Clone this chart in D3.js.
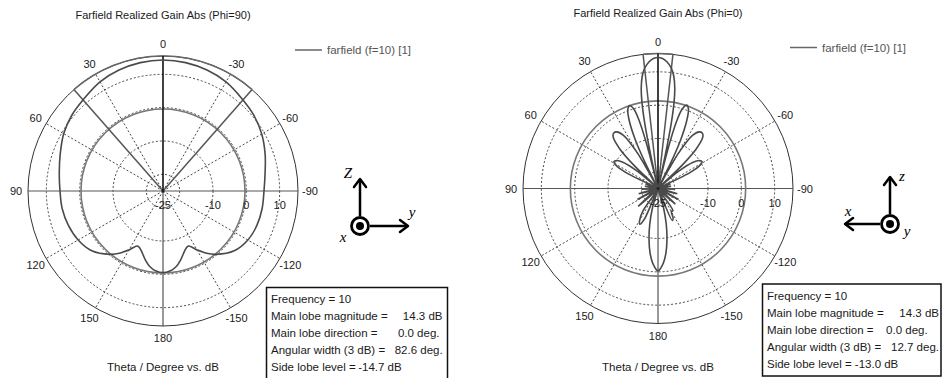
<!DOCTYPE html>
<html>
<head>
<meta charset="utf-8">
<script src="https://cdn.jsdelivr.net/npm/d3@7"></script>
<style>
  html, body { margin: 0; padding: 0; background: #fff; }
  text { font-family: "Liberation Sans", Arial, sans-serif; fill: #1a1a1a; }
</style>
</head>
<body>
<script>
// ---------------- DATA ----------------
const chartTitles = ["Farfield Realized Gain Abs (Phi=90)", "Farfield Realized Gain Abs (Phi=0)"];
const axisTitle = "Theta / Degree vs. dB";
const legendLabel = "farfield (f=10) [1]";
const angleTicks = [0, 30, 60, 90, 120, 150, 180, -150, -120, -90, -60, -30];
const radialTicks = [-25, -10, 0, 10];
const gridCircles = [-20, -10, 0, 10];
const radialMin = -25, radialMax = 15.5;

// Phi = 90 cut (theta in degrees, gain in dB)
const thetaPhi90 = [-180,-175,-170,-166,-162,-158,-155,-150,-145,-140,-130,-120,-110,-100,-90,-80,-70,-60,-50,-41,-30,-20,-10,
  0,10,20,30,41,50,60,70,80,90,100,110,120,130,140,145,150,155,158,162,166,170,175];
const gainPhi90 = [-0.5,-0.9,-2.0,-3.5,-5.2,-6.5,-6.8,-4.6,-2.2,-0.2,2.9,4.4,5.0,5.2,5.3,6.1,7.6,9.2,10.5,11.4,12.8,13.6,14.1,
  14.3,14.1,13.6,12.8,11.4,10.6,9.4,7.8,6.6,5.9,5.7,5.2,4.4,2.9,-0.2,-2.2,-4.6,-6.8,-6.5,-5.2,-3.5,-2.0,-0.9];

// Phi = 0 cut
const thetaPhi0 = [-180,-176,-173,-170,-167,-164,-162,-156,-153,-150,-146,-138,-132,-124,-118,-111,-105,-98,-92,-85,-80,-74,-70,-66,
  -63.5,-61,-58.5,-56,-53,-50,-48,-46,-44,-41,-38.5,-36,-33,-30,-28,-26.5,-25,-23,-21,-19,-17,-15.5,-14,-13,-12.3,-11.5,-10.5,-9.5,-8,-6.35,-4,-2,
  0,2,4,6.35,8,9.5,10.5,11.5,12.3,13,14,15.5,17,19,21,23,25,26.5,28,30,33,36,38.5,41,44,46,48,50,53,56,58.5,61,63.5,
  66,70,74,80,85,92,98,105,111,118,124,132,138,146,150,153,156,162,164,167,170,173,176];
const gainPhi0 = [-0.3,-2.5,-5.5,-9.5,-14,-19,-25,-14.5,-15,-17,-17,-25,-18,-25,-18,-25,-19,-25,-20,-25,-21,-25,-21,-25,
  -14,-10.5,-9.5,-10,-12,-17,-25,-15,-8.5,-4.5,-3.7,-4,-6,-13,-25,-17,-9,-3,0.5,1.5,0,-4,-14,-25,-15,-5,1.5,5.5,9.0,11.3,13.1,14.0,
  14.3,14.0,13.1,11.3,9.0,5.5,1.5,-5,-15,-25,-14,-4,0,1.3,0.3,-3,-9,-17,-25,-13,-6,-4,-3.7,-4.5,-8.5,-15,-25,-17,-12,-10,-9.5,-10.5,-14,
  -25,-21,-25,-21,-25,-20,-25,-19,-25,-18,-25,-17,-25,-17,-14,-13,-15,-25,-19,-14,-9.5,-5.5,-2.5];

// Summary boxes
const frequencyValue = [10, 10];
const mainLobeMag = [14.3, 14.3];
const mainLobeDir = [0.0, 0.0];
const angularWidth = [82.6, 12.7];
const sideLobeLevel = [-14.7, -13.0];

// ---------------- DRAW ----------------
const W = 943, H = 378;
const svg = d3.select("body").append("svg").attr("width", W).attr("height", H);
const R = 135;
const rScale = d3.scaleLinear().domain([radialMin, radialMax]).range([0, R]).clamp(true);
const rad = d => d * Math.PI / 180;
const pt = (cx, cy, deg, r) => [cx - r * Math.sin(rad(deg)), cy - r * Math.cos(rad(deg))];

const charts = [
  { cx: 163, cy: 191, theta: thetaPhi90, gain: gainPhi90, titleY: 19,
    legendX: 295, legendY: 50, box: {x: 266.5, y: 287.5, w: 181, h: 100, tx: 271, y0: 303, dy: 16.9,
      vx: [442.5, 439.5, 442.7, 401.7]} },
  { cx: 658, cy: 188.5, theta: thetaPhi0, gain: gainPhi0, titleY: 17,
    legendX: 790, legendY: 47.5, box: {x: 762.5, y: 284, w: 178.5, h: 92, tx: 767, y0: 299.5, dy: 17,
      vx: [939, 927.7, 939, 898.3]} }
];

charts.forEach((c, i) => {
  const g = svg.append("g");
  const { cx, cy } = c;

  // title
  g.append("text").attr("x", cx).attr("y", c.titleY).attr("text-anchor", "middle")
    .style("font-size", "11px").text(chartTitles[i]);

  // dashed grid circles
  gridCircles.forEach(v => {
    g.append("circle").attr("cx", cx).attr("cy", cy).attr("r", rScale(v))
      .attr("fill", "none").attr("stroke", "#333").attr("stroke-width", 0.9)
      .attr("stroke-dasharray", "2,2");
  });
  // dashed radial lines
  angleTicks.filter(a => a % 90 !== 0).forEach(a => {
    const p = pt(cx, cy, a, R);
    g.append("line").attr("x1", cx).attr("y1", cy).attr("x2", p[0]).attr("y2", p[1])
      .attr("stroke", "#333").attr("stroke-width", 0.9).attr("stroke-dasharray", "2,2");
  });
  // outer circle
  g.append("circle").attr("cx", cx).attr("cy", cy).attr("r", R)
    .attr("fill", "none").attr("stroke", "#333").attr("stroke-width", 1);
  // axes: horizontal and lower vertical
  g.append("line").attr("x1", cx - R).attr("y1", cy).attr("x2", cx + R).attr("y2", cy)
    .attr("stroke", "#555").attr("stroke-width", 1);
  g.append("line").attr("x1", cx).attr("y1", cy).attr("x2", cx).attr("y2", cy + R)
    .attr("stroke", "#333").attr("stroke-width", 1);

  // side lobe level circle
  const sllAbs = mainLobeMag[i] + sideLobeLevel[i];
  g.append("circle").attr("cx", cx).attr("cy", cy).attr("r", rScale(sllAbs))
    .attr("fill", "none").attr("stroke", "#777").attr("stroke-width", 1.6);

  // 3 dB beam lines
  const half = angularWidth[i] / 2;
  [mainLobeDir[i] - half, mainLobeDir[i] + half].forEach(a => {
    const p = pt(cx, cy, a, R);
    g.append("line").attr("x1", cx).attr("y1", cy).attr("x2", p[0]).attr("y2", p[1])
      .attr("stroke", "#555").attr("stroke-width", 1.5);
  });
  // arc of beam width on outer circle
  const arc = d3.arc().innerRadius(R).outerRadius(R)
    .startAngle(rad(-(mainLobeDir[i] + half))).endAngle(rad(-(mainLobeDir[i] - half)));
  g.append("path").attr("d", arc()).attr("transform", `translate(${cx},${cy})`)
    .attr("fill", "none").attr("stroke", "#666").attr("stroke-width", 1.5);

  // main lobe direction line
  const pm = pt(cx, cy, mainLobeDir[i], R);
  g.append("line").attr("x1", cx).attr("y1", cy).attr("x2", pm[0]).attr("y2", pm[1])
    .attr("stroke", "#111").attr("stroke-width", 1.6);

  // data curve
  const pts = c.theta.map((t, k) => ({ t, v: c.gain[k] }));
  const line = d3.lineRadial()
    .angle(d => -rad(d.t))
    .radius(d => rScale(d.v))
    .curve(d3.curveCatmullRomClosed.alpha(0.5));
  g.append("path").attr("d", line(pts)).attr("transform", `translate(${cx},${cy})`)
    .attr("fill", "none").attr("stroke", "#4a4a4a").attr("stroke-width", 1.6);

  // center dot
  g.append("circle").attr("cx", cx).attr("cy", cy).attr("r", 1.5).attr("fill", "#222");

  // angle labels
  angleTicks.forEach(a => {
    const p = pt(cx, cy, a, 147);
    g.append("text").attr("x", p[0]).attr("y", p[1] + 4).attr("text-anchor", "middle")
      .style("font-size", "11px").text(a);
  });
  // radial labels
  radialTicks.forEach(v => {
    g.append("text").attr("x", cx + rScale(v)).attr("y", cy + 18).attr("text-anchor", "middle")
      .style("font-size", "11px").text(v);
  });

  // axis title
  g.append("text").attr("x", cx).attr("y", 371).attr("text-anchor", "middle")
    .style("font-size", "11.5px").text(axisTitle);

  // legend
  g.append("line").attr("x1", c.legendX).attr("y1", c.legendY).attr("x2", c.legendX + 27).attr("y2", c.legendY)
    .attr("stroke", "#666").attr("stroke-width", 1.5);
  g.append("text").attr("x", c.legendX + 32).attr("y", c.legendY + 4)
    .style("font-size", "11.5px").style("fill", "#555").text(legendLabel);

  // info box
  const b = c.box;
  g.append("rect").attr("x", b.x).attr("y", b.y).attr("width", b.w).attr("height", b.h)
    .attr("fill", "#fff").attr("stroke", "#111").attr("stroke-width", 1.5);
  const labels = ["Main lobe magnitude =", "Main lobe direction =", "Angular width (3 dB) =", "Side lobe level ="];
  const values = [mainLobeMag[i].toFixed(1) + " dB", mainLobeDir[i].toFixed(1) + " deg.",
    angularWidth[i].toFixed(1) + " deg.", sideLobeLevel[i].toFixed(1) + " dB"];
  g.append("text").attr("x", b.tx).attr("y", b.y0).style("font-size", "11.5px")
    .text("Frequency = " + frequencyValue[i]);
  labels.forEach((l, k) => {
    const y = b.y0 + (k + 1) * b.dy;
    g.append("text").attr("x", b.tx).attr("y", y).style("font-size", "11.5px").text(l);
    g.append("text").attr("x", b.vx[k]).attr("y", y).attr("text-anchor", "end")
      .style("font-size", "11.5px").text(values[k]);
  });
});

// ---------------- coordinate glyphs ----------------
function arrowHead(g, x, y, dir) {
  let p;
  if (dir === "up") p = [[x - 6, y + 8], [x, y], [x + 6, y + 8]];
  else if (dir === "right") p = [[x - 8, y - 6], [x, y], [x - 8, y + 6]];
  else p = [[x + 8, y - 6], [x, y], [x + 8, y + 6]];
  g.append("path").attr("d", d3.line()(p)).attr("fill", "none")
    .attr("stroke", "#000").attr("stroke-width", 2.5).attr("stroke-linecap", "round").attr("stroke-linejoin", "round");
}
function glyph(cx, cy, horiz, labels) {
  const g = svg.append("g");
  g.append("circle").attr("cx", cx).attr("cy", cy).attr("r", 8.5).attr("fill", "#fff")
    .attr("stroke", "#000").attr("stroke-width", 2.8);
  g.append("circle").attr("cx", cx).attr("cy", cy).attr("r", 4).attr("fill", "#000");
  g.append("line").attr("x1", cx).attr("y1", cy - 10).attr("x2", cx).attr("y2", cy - 46)
    .attr("stroke", "#000").attr("stroke-width", 2.5);
  arrowHead(g, cx, cy - 47, "up");
  if (horiz === "right") {
    g.append("line").attr("x1", cx + 10).attr("y1", cy).attr("x2", cx + 47).attr("y2", cy)
      .attr("stroke", "#000").attr("stroke-width", 2.5);
    arrowHead(g, cx + 48, cy, "right");
  } else {
    g.append("line").attr("x1", cx - 10).attr("y1", cy).attr("x2", cx - 44).attr("y2", cy)
      .attr("stroke", "#000").attr("stroke-width", 2.5);
    arrowHead(g, cx - 45, cy, "left");
  }
  labels.forEach(l => {
    g.append("text").attr("x", l[1]).attr("y", l[2]).attr("text-anchor", "middle")
      .style("font-family", "'Liberation Serif', 'DejaVu Serif', serif").style("font-style", "italic")
      .style("font-size", "15px").style("fill", "#000").text(l[0]);
  });
}
glyph(360, 226, "right", [["Z", 348, 178], ["y", 412, 217], ["x", 343, 242]]);
glyph(890, 224, "left", [["z", 902, 181], ["x", 848, 216], ["y", 907, 236]]);
</script>
</body>
</html>
